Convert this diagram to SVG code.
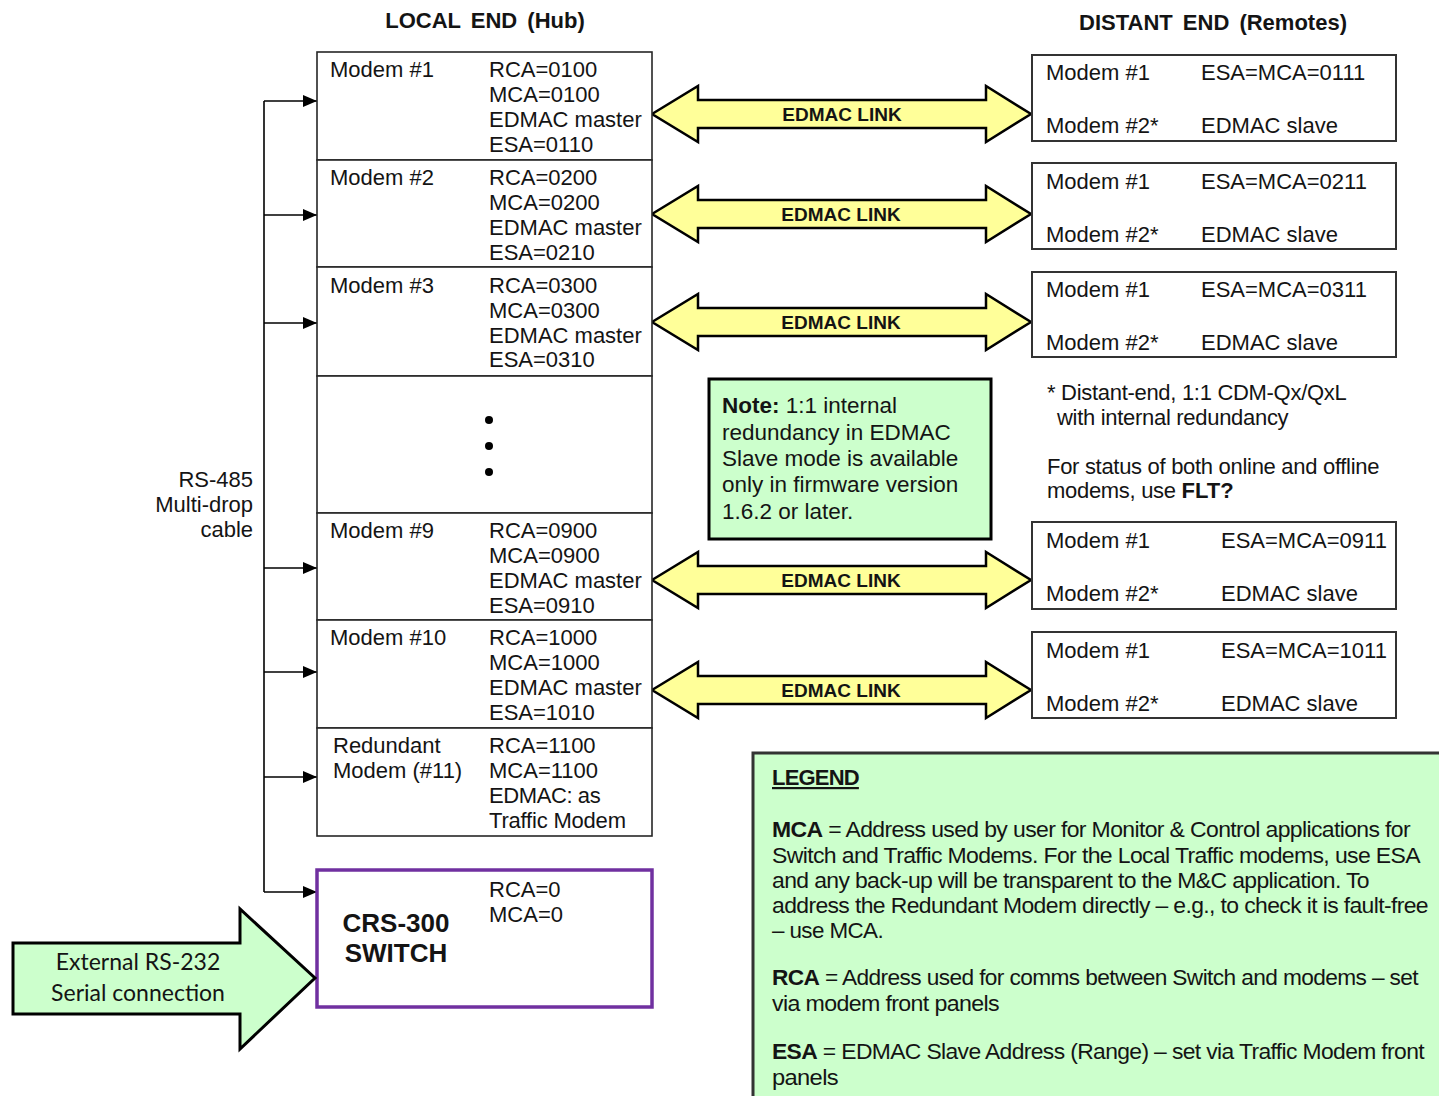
<svg xmlns="http://www.w3.org/2000/svg" width="1439" height="1096" viewBox="0 0 1439 1096">
<defs>
<marker id="ah" markerWidth="14" markerHeight="12" refX="14" refY="6" orient="auto" markerUnits="userSpaceOnUse">
<path d="M0,0 L14,6 L0,12 Z" fill="#000"/>
</marker>
<style>
text{font-family:"Liberation Sans",Arial,sans-serif;fill:#141414;}
.t{font-size:22px;}
.s{font-size:22px;}
.f{font-size:22px;letter-spacing:-0.3px;}
.n{font-size:22.5px;}
.h{font-size:22px;font-weight:bold;word-spacing:4px;}
.box{fill:#fff;stroke:#262626;stroke-width:1.6;}
.rbox{fill:#fff;stroke:#333;stroke-width:2;}
.lnk{fill:#FFFF99;stroke:#000;stroke-width:2.5;stroke-linejoin:miter;}
.lt{font-size:19px;font-weight:bold;text-anchor:middle;}
.bus{fill:none;stroke:#000;stroke-width:1.6;}
.cond{font-size:22px;letter-spacing:-0.6px;}
</style>
</defs>
<rect width="1439" height="1096" fill="#fff"/>

<text class="h" x="485" y="28" text-anchor="middle">LOCAL END (Hub)</text>
<text class="h" x="1213" y="30" text-anchor="middle">DISTANT END (Remotes)</text>

<g id="connectors">
<path class="bus" d="M264,101 V892"/>
<path class="bus" d="M264,101 H317" marker-end="url(#ah)"/>
<path class="bus" d="M264,215 H317" marker-end="url(#ah)"/>
<path class="bus" d="M264,323 H317" marker-end="url(#ah)"/>
<path class="bus" d="M264,568 H317" marker-end="url(#ah)"/>
<path class="bus" d="M264,672 H317" marker-end="url(#ah)"/>
<path class="bus" d="M264,777 H317" marker-end="url(#ah)"/>
<path class="bus" d="M264,892 H317" marker-end="url(#ah)"/>
<g id="link1"><path class="lnk" d="M652,114 L698,86 L698,100 L986,100 L986,86 L1031,114 L986,142 L986,128 L698,128 L698,142 Z"/><text class="lt" x="842" y="121">EDMAC LINK</text></g>
<g id="link2"><path class="lnk" d="M652,214 L698,186 L698,200 L986,200 L986,186 L1031,214 L986,242 L986,228 L698,228 L698,242 Z"/><text class="lt" x="841" y="221">EDMAC LINK</text></g>
<g id="link3"><path class="lnk" d="M652,322 L698,294 L698,308 L986,308 L986,294 L1031,322 L986,350 L986,336 L698,336 L698,350 Z"/><text class="lt" x="841" y="329">EDMAC LINK</text></g>
<g id="link9"><path class="lnk" d="M652,580 L698,552 L698,566 L986,566 L986,552 L1031,580 L986,608 L986,594 L698,594 L698,608 Z"/><text class="lt" x="841" y="587">EDMAC LINK</text></g>
<g id="link10"><path class="lnk" d="M652,690 L698,662 L698,676 L986,676 L986,662 L1031,690 L986,718 L986,704 L698,704 L698,718 Z"/><text class="lt" x="841" y="697">EDMAC LINK</text></g>
</g>

<g id="rs485">
<text class="s" x="253" y="487" text-anchor="end">RS-485</text>
<text class="s" x="253" y="512" text-anchor="end">Multi-drop</text>
<text class="s" x="253" y="537" text-anchor="end">cable</text>
</g>

<g id="hub-modem1">
<rect class="box" x="317" y="52" width="335" height="108"/>
<text class="t" x="330" y="77">Modem #1</text>
<text class="t" x="489" y="77">RCA=0100</text>
<text class="t" x="489" y="102">MCA=0100</text>
<text class="t" x="489" y="127">EDMAC master</text>
<text class="t" x="489" y="152">ESA=0110</text>
</g>
<g id="hub-modem2">
<rect class="box" x="317" y="160" width="335" height="107"/>
<text class="t" x="330" y="185">Modem #2</text>
<text class="t" x="489" y="185">RCA=0200</text>
<text class="t" x="489" y="210">MCA=0200</text>
<text class="t" x="489" y="235">EDMAC master</text>
<text class="t" x="489" y="260">ESA=0210</text>
</g>
<g id="hub-modem3">
<rect class="box" x="317" y="267" width="335" height="109"/>
<text class="t" x="330" y="293">Modem #3</text>
<text class="t" x="489" y="293">RCA=0300</text>
<text class="t" x="489" y="318">MCA=0300</text>
<text class="t" x="489" y="343">EDMAC master</text>
<text class="t" x="489" y="367">ESA=0310</text>
</g>
<g id="hub-dots">
<rect class="box" x="317" y="376" width="335" height="137"/>
<circle cx="489" cy="420" r="4" fill="#000"/>
<circle cx="489" cy="446" r="4" fill="#000"/>
<circle cx="489" cy="472" r="4" fill="#000"/>
</g>
<g id="hub-modem9">
<rect class="box" x="317" y="513" width="335" height="107"/>
<text class="t" x="330" y="538">Modem #9</text>
<text class="t" x="489" y="538">RCA=0900</text>
<text class="t" x="489" y="563">MCA=0900</text>
<text class="t" x="489" y="588">EDMAC master</text>
<text class="t" x="489" y="613">ESA=0910</text>
</g>
<g id="hub-modem10">
<rect class="box" x="317" y="620" width="335" height="108"/>
<text class="t" x="330" y="645">Modem #10</text>
<text class="t" x="489" y="645">RCA=1000</text>
<text class="t" x="489" y="670">MCA=1000</text>
<text class="t" x="489" y="695">EDMAC master</text>
<text class="t" x="489" y="720">ESA=1010</text>
</g>
<g id="hub-redundant">
<rect class="box" x="317" y="728" width="335" height="108"/>
<text class="t" x="333" y="753">Redundant</text>
<text class="t" x="333" y="778">Modem (#11)</text>
<text class="t" x="489" y="753">RCA=1100</text>
<text class="t" x="489" y="778">MCA=1100</text>
<text class="t" x="489" y="803" letter-spacing="-0.4">EDMAC: as</text>
<text class="t" x="489" y="828" letter-spacing="-0.2">Traffic Modem</text>
</g>
<g id="switch">
<rect x="317" y="870" width="335" height="137" fill="#fff" stroke="#7030A0" stroke-width="3.5"/>
<text x="396" y="932" text-anchor="middle" font-size="26" font-weight="bold">CRS-300</text>
<text x="396" y="962" text-anchor="middle" font-size="26" font-weight="bold">SWITCH</text>
<text class="t" x="489" y="897">RCA=0</text>
<text class="t" x="489" y="922">MCA=0</text>
</g>
<g id="serial-input">
<path d="M13,943 H240 V909 L315,978 L240,1049 V1014 H13 Z" fill="#CCFFCC" stroke="#000" stroke-width="3"/>
<text x="138" y="970" text-anchor="middle" font-size="23" style="font-family:Lato,'Open Sans',sans-serif">External RS-232</text>
<text x="138" y="1001" text-anchor="middle" font-size="23" style="font-family:Lato,'Open Sans',sans-serif">Serial connection</text>
</g>

<g id="remote1">
<rect class="rbox" x="1032" y="55" width="364" height="86"/>
<text class="t" x="1046" y="80">Modem #1</text>
<text class="t" x="1201" y="80">ESA=MCA=0111</text>
<text class="t" x="1046" y="133">Modem #2*</text>
<text class="t" x="1201" y="133">EDMAC slave</text>
</g>
<g id="remote2">
<rect class="rbox" x="1032" y="163" width="364" height="86"/>
<text class="t" x="1046" y="189">Modem #1</text>
<text class="t" x="1201" y="189">ESA=MCA=0211</text>
<text class="t" x="1046" y="242">Modem #2*</text>
<text class="t" x="1201" y="242">EDMAC slave</text>
</g>
<g id="remote3">
<rect class="rbox" x="1032" y="272" width="364" height="85"/>
<text class="t" x="1046" y="297">Modem #1</text>
<text class="t" x="1201" y="297">ESA=MCA=0311</text>
<text class="t" x="1046" y="350">Modem #2*</text>
<text class="t" x="1201" y="350">EDMAC slave</text>
</g>
<g id="remote9">
<rect class="rbox" x="1032" y="522" width="364" height="87"/>
<text class="t" x="1046" y="548">Modem #1</text>
<text class="t" x="1221" y="548">ESA=MCA=0911</text>
<text class="t" x="1046" y="601">Modem #2*</text>
<text class="t" x="1221" y="601">EDMAC slave</text>
</g>
<g id="remote10">
<rect class="rbox" x="1032" y="632" width="364" height="86"/>
<text class="t" x="1046" y="658">Modem #1</text>
<text class="t" x="1221" y="658">ESA=MCA=1011</text>
<text class="t" x="1046" y="711">Modem #2*</text>
<text class="t" x="1221" y="711">EDMAC slave</text>
</g>

<g id="footnote">
<text class="f" x="1047" y="400">* Distant-end, 1:1 CDM-Qx/QxL</text>
<text class="f" x="1057" y="425">with internal redundancy</text>
<text class="f" x="1047" y="474">For status of both online and offline</text>
<text class="f" x="1047" y="498">modems, use <tspan font-weight="bold" letter-spacing="0">FLT?</tspan></text>
</g>

<g id="note">
<rect x="709" y="379" width="282" height="160" fill="#CCFFCC" stroke="#000" stroke-width="3"/>
<text class="n" x="722" y="413"><tspan font-weight="bold">Note:</tspan> 1:1 internal</text>
<text class="n" x="722" y="440">redundancy in EDMAC</text>
<text class="n" x="722" y="466">Slave mode is available</text>
<text class="n" x="722" y="492">only in firmware version</text>
<text class="n" x="722" y="519">1.6.2 or later.</text>
</g>

<g id="legend">
<rect x="753" y="753" width="700" height="360" fill="#CCFFCC" stroke="#333" stroke-width="3"/>
<text x="772" y="785" font-size="22" font-weight="bold" letter-spacing="-0.8" text-decoration="underline">LEGEND</text>
<text class="cond" x="772" y="837" textLength="638" lengthAdjust="spacingAndGlyphs"><tspan font-weight="bold">MCA</tspan> = Address used by user for Monitor &amp; Control applications for</text>
<text class="cond" x="772" y="863" textLength="648" lengthAdjust="spacingAndGlyphs">Switch and Traffic Modems. For the Local Traffic modems, use ESA</text>
<text class="cond" x="772" y="888" textLength="597" lengthAdjust="spacingAndGlyphs">and any back-up will be transparent to the M&amp;C application. To</text>
<text class="cond" x="772" y="913" textLength="656" lengthAdjust="spacingAndGlyphs">address the Redundant Modem directly – e.g., to check it is fault-free</text>
<text class="cond" x="772" y="938" textLength="111" lengthAdjust="spacingAndGlyphs">– use MCA.</text>
<text class="cond" x="772" y="985" textLength="646" lengthAdjust="spacingAndGlyphs"><tspan font-weight="bold">RCA</tspan> = Address used for comms between Switch and modems – set</text>
<text class="cond" x="772" y="1011" textLength="227" lengthAdjust="spacingAndGlyphs">via modem front panels</text>
<text class="cond" x="772" y="1059" textLength="652" lengthAdjust="spacingAndGlyphs"><tspan font-weight="bold">ESA</tspan> = EDMAC Slave Address (Range) – set via Traffic Modem front</text>
<text class="cond" x="772" y="1085" textLength="66" lengthAdjust="spacingAndGlyphs">panels</text>
</g>
</svg>
